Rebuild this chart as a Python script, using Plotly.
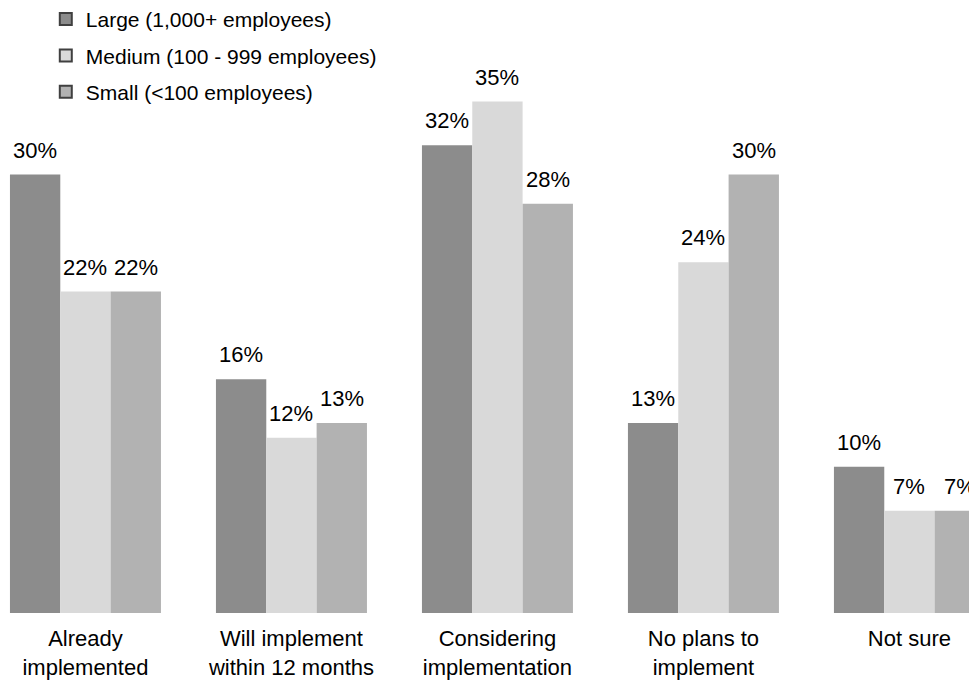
import plotly.graph_objects as go

categories = ["Already<br>implemented", "Will implement<br>within 12 months",
              "Considering<br>implementation", "No plans to<br>implement", "Not sure"]
series_names = ["Large (1,000+ employees)", "Medium (100 - 999 employees)", "Small (<100 employees)"]
large = [30, 16, 32, 13, 10]
medium = [22, 12, 35, 24, 7]
small = [22, 13, 28, 30, 7]
colors = ["#8c8c8c", "#d9d9d9", "#b2b2b2"]

series_values = [large, medium, small]
FONT = "Liberation Sans, Arial, sans-serif"
BARGAP = 0.267
bar_w = (1 - BARGAP) / len(series_values)

fig = go.Figure()
for name, vals, col in zip(series_names, series_values, colors):
    fig.add_trace(go.Bar(x=categories, y=vals, name=name, marker=dict(color=col, line=dict(width=0)),
                         showlegend=False, hoverinfo="skip"))
# legend entries (outlined squares)
for k, (name, col) in enumerate(zip(series_names, colors)):
    fig.add_trace(go.Scatter(x=[None], y=[None], mode="markers", name=name, legendgroup=str(k),
                             marker=dict(symbol="square", size=12, color=col,
                                         line=dict(color="#404040", width=1))))

annotations = []
for j, vals in enumerate(series_values):
    for i, v in enumerate(vals):
        annotations.append(dict(x=i + (j - 1) * bar_w, y=v, xref="x", yref="y",
                                text=f"{v}%", showarrow=False, yanchor="bottom",
                                yshift=10, font=dict(family=FONT, size=22, color="#000")))

fig.update_layout(
    width=969, height=673,
    margin=dict(l=0, r=0, t=0, b=68, autoexpand=False),
    paper_bgcolor="white", plot_bgcolor="white",
    barmode="group", bargap=BARGAP, bargroupgap=0,
    font=dict(family=FONT, color="#000"),
    xaxis=dict(range=[-0.376, 4.328], showgrid=False, zeroline=False, showline=False,
               ticks="outside", ticklen=6, tickcolor="rgba(0,0,0,0)",
               tickfont=dict(family=FONT, size=22, color="#000")),
    yaxis=dict(range=[0, 41.4], visible=False),
    legend=dict(x=0.039, y=1.015, xanchor="left", yanchor="top", tracegroupgap=6,
                font=dict(family=FONT, size=21, color="#000"), bgcolor="rgba(0,0,0,0)",
                itemsizing="constant"),
    annotations=annotations,
    showlegend=True,
)
fig.write_html("out.html")
